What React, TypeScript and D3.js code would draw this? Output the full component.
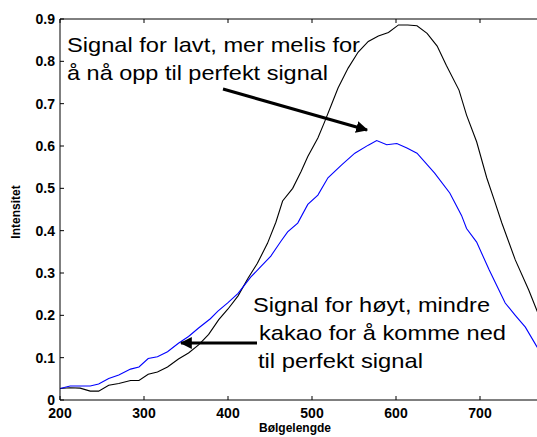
import React from "react";
import * as d3 from "d3";

const blackWl = [200,212,224,236,246,258,270,284,294,305,316,328,341,353,365,377,389,400,412,424,435,447,457,465,477,487,495,507,515,523,531,543,555,567,579,591,603,614,625,637,649,660,675,684,696,708,717,726,742,758,772];
const blackVals = [0.027,0.029,0.028,0.021,0.021,0.035,0.039,0.046,0.046,0.061,0.066,0.078,0.097,0.111,0.130,0.155,0.190,0.215,0.246,0.288,0.323,0.370,0.420,0.470,0.500,0.540,0.575,0.619,0.657,0.697,0.737,0.784,0.822,0.847,0.860,0.868,0.886,0.886,0.884,0.866,0.836,0.790,0.732,0.673,0.610,0.525,0.472,0.418,0.331,0.260,0.190];

const blueWl = [200,212,224,236,246,258,270,284,294,305,316,328,341,353,365,379,388,400,412,427,439,451,463,471,483,495,507,519,535,551,567,577,589,601,613,625,646,664,678,684,696,711,730,742,754,768,772];
const blueVals = [0.027,0.033,0.033,0.033,0.038,0.051,0.059,0.073,0.078,0.098,0.102,0.114,0.134,0.150,0.170,0.192,0.210,0.230,0.252,0.290,0.315,0.340,0.375,0.397,0.418,0.462,0.484,0.525,0.555,0.583,0.602,0.613,0.603,0.606,0.595,0.583,0.536,0.489,0.436,0.405,0.373,0.307,0.229,0.200,0.172,0.125,0.115];

const xTicks = [200,300,400,500,600,700];
const yTicks = [0,0.1,0.2,0.3,0.4,0.5,0.6,0.7,0.8,0.9];
const yTickLabels = ["0","0.1","0.2","0.3","0.4","0.5","0.6","0.7","0.8","0.9"];

const note1 = ["Signal for lavt, mer melis for", "å nå opp til perfekt signal"];
const note1X = [67, 67];
const note1Len = [293, 261];
const note2 = ["Signal for høyt, mindre", "kakao for å komme ned", "til perfekt signal"];
const note2X = [253, 259, 258];
const note2Len = [237, 247, 165];

const W = 537, H = 437;
const FONT = "'Liberation Sans', Arial, Helvetica, sans-serif";

export default function App() {
  const x = d3.scaleLinear().domain([200, 800]).range([60, 564]);
  const y = d3.scaleLinear().domain([0, 0.9]).range([400, 19]);
  const line = d3.line<[number, number]>().x(d => x(d[0])).y(d => y(d[1]));
  const black = blackWl.map((w, i) => [w, blackVals[i]] as [number, number]);
  const blue = blueWl.map((w, i) => [w, blueVals[i]] as [number, number]);
  const x0 = x(200), x1 = x(800), y0 = y(0), y1 = y(0.9);

  return (
    <svg width={W} height={H} style={{ position: "absolute", left: 0, top: 0, background: "#fff" }} fontFamily={FONT}>
      <defs>
        <clipPath id="plot"><rect x={x0} y={y1} width={x1 - x0} height={y0 - y1} /></clipPath>
        <marker id="ah" viewBox="0 0 10 10" refX="9" refY="5" markerWidth="4" markerHeight="4" orient="auto" markerUnits="strokeWidth">
          <path d="M0,0 L10,5 L0,10 z" fill="#000" />
        </marker>
      </defs>
      <rect x={0} y={0} width={W} height={H} fill="#fff" />
      <g clipPath="url(#plot)">
        <path d={line(black) || ""} fill="none" stroke="#000" strokeWidth={1.1} />
        <path d={line(blue) || ""} fill="none" stroke="#0000ff" strokeWidth={1.1} />
      </g>
      <line x1={x0} y1={y0} x2={x1} y2={y0} stroke="#000" strokeWidth={1} />
      <line x1={x0} y1={y1} x2={x1} y2={y1} stroke="#000" strokeWidth={1} />
      <line x1={x0} y1={y0} x2={x0} y2={y1} stroke="#000" strokeWidth={1} />
      {xTicks.map(t => (
        <g key={"xt" + t}>
          <line x1={x(t)} x2={x(t)} y1={y0} y2={y0 - 4} stroke="#000" />
          <line x1={x(t)} x2={x(t)} y1={y1} y2={y1 + 4} stroke="#000" />
          <text x={x(t)} y={418} textAnchor="middle" fontSize={14} fontWeight="bold">{t}</text>
        </g>
      ))}
      {yTicks.map((t, i) => (
        <g key={"yt" + i}>
          <line x1={x0} x2={x0 + 4} y1={y(t)} y2={y(t)} stroke="#000" />
          <text x={55} y={y(t) + 5} textAnchor="end" fontSize={14} fontWeight="bold">{yTickLabels[i]}</text>
        </g>
      ))}
      <text transform={`translate(20,${212}) rotate(-90)`} textAnchor="middle" fontSize={12} fontWeight="bold">Intensitet</text>
      <text x={295} y={432} textAnchor="middle" fontSize={12} fontWeight="bold">Bølgelengde</text>

      {note1.map((s, i) => (
        <text key={"n1" + i} x={note1X[i]} y={52 + i * 28} fontSize={21} textLength={note1Len[i]} lengthAdjust="spacingAndGlyphs">{s}</text>
      ))}
      <line x1={223} y1={89} x2={367} y2={130} stroke="#000" strokeWidth={3} markerEnd="url(#ah)" />

      {note2.map((s, i) => (
        <text key={"n2" + i} x={note2X[i]} y={312 + i * 28} fontSize={21} textLength={note2Len[i]} lengthAdjust="spacingAndGlyphs">{s}</text>
      ))}
      <line x1={257} y1={343} x2={181} y2={343} stroke="#000" strokeWidth={3} markerEnd="url(#ah)" />
    </svg>
  );
}
